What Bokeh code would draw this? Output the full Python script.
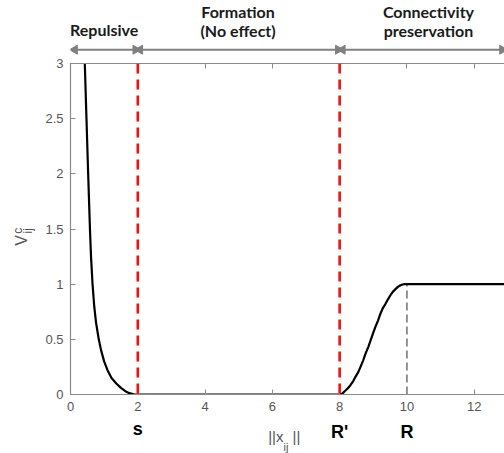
import math
from bokeh.plotting import figure
from bokeh.layouts import column, row
from bokeh.models import (Range1d, LinearAxis, FixedTicker, CustomJSTickFormatter, Span)
from bokeh.core.properties import value
from bokeh.embed import file_html
from bokeh.resources import INLINE

# ---- data ----
curve_x = [0.425, 0.475, 0.525, 0.578, 0.61, 0.655, 0.705, 0.76, 0.84, 0.91, 1.0, 1.1,
           1.22, 1.36, 1.5, 1.63, 1.75, 1.9,
           8.0, 8.08, 8.15, 8.24, 8.32, 8.4, 8.47, 8.55, 8.62, 8.7, 8.77, 8.85, 8.92, 9.0,
           9.06, 9.14, 9.21, 9.28, 9.36, 9.44, 9.51, 9.58, 9.66, 9.73, 9.81, 9.87, 9.93,
           10.0, 12.9]
curve_y = [3.0, 2.5, 2.0, 1.5, 1.25, 1.0, 0.8, 0.65, 0.5, 0.4, 0.3, 0.22,
           0.15, 0.1, 0.06, 0.03, 0.012, 0.0,
           0.0, 0.008, 0.03, 0.055, 0.084, 0.12, 0.16, 0.2, 0.25, 0.31, 0.37, 0.43, 0.49, 0.56,
           0.61, 0.67, 0.73, 0.78, 0.82, 0.865, 0.90, 0.93, 0.955, 0.975, 0.99, 0.997, 1.0,
           1.0, 1.0]
red_lines_x = [2, 8]
R_x = 10
R_level = 1.0
x_ticks = [0, 2, 4, 6, 8, 10, 12]
y_ticks = [0, 0.5, 1, 1.5, 2, 2.5, 3]
region_names = [["Repulsive"], ["Formation", "(No effect)"], ["Connectivity", "preservation"]]
region_centers = [1.0, 4.98, 10.64]
region_edges = [0.06, 2.0, 8.02, 12.9]
point_labels = ["s", "R'", "R"]
point_label_x = [2, 8, 10]

AX = "#8a8a8a"
TXT = "#555555"
ARROW = "#808080"
PX_X = 33.64      # pixels per x unit (frame 434 px wide)
PX_Y = 110.33     # pixels per y unit (frame 331 px tall)
X_END = 12.9

xr = Range1d(0, X_END)

def blank(fig):
    fig.outline_line_color = None
    fig.xgrid.visible = False
    fig.ygrid.visible = False
    fig.background_fill_color = "white"
    fig.border_fill_color = "white"
    return fig

# ---------- main plot ----------
TOP_B, FRAME_H, BOT_B = 8, 331, 25
MAIN_H = TOP_B + FRAME_H + BOT_B
p = blank(figure(width=464, height=MAIN_H, output_backend="svg",
                 toolbar_location=None, x_range=xr, y_range=Range1d(0, 3),
                 min_border_left=30, min_border_right=0, min_border_top=TOP_B,
                 min_border_bottom=BOT_B, x_axis_location=None, y_axis_location=None))

fmt = CustomJSTickFormatter(code="return String(Math.round(tick*10)/10);")
nofmt = CustomJSTickFormatter(code="return '';")

def style_axis(ax, labels=True):
    ax.axis_line_color = AX
    ax.axis_line_width = 1.2
    ax.major_tick_line_color = AX
    ax.major_tick_in = 5
    ax.major_tick_out = 0
    ax.minor_tick_line_color = None
    ax.major_label_text_color = TXT
    ax.major_label_text_font = "Liberation Sans"
    ax.major_label_text_font_size = "13px"
    if not labels:
        ax.major_label_text_font_size = "0px"
        ax.major_label_standoff = 0

xb = LinearAxis(ticker=FixedTicker(ticks=x_ticks), formatter=fmt)
style_axis(xb)
xb.major_label_standoff = 7
p.add_layout(xb, "below")

xt = LinearAxis(ticker=FixedTicker(ticks=x_ticks), formatter=nofmt)
style_axis(xt, labels=False)
p.add_layout(xt, "above")

yl = LinearAxis(ticker=FixedTicker(ticks=y_ticks), formatter=fmt)
style_axis(yl)
yl.major_label_standoff = 7
p.add_layout(yl, "left")

for xv in red_lines_x:
    p.add_layout(Span(location=xv, dimension="height", line_color="#ee1111",
                      line_width=2.6, line_dash="10 6"))

p.segment(x0=[R_x], y0=[0], x1=[R_x], y1=[R_level], line_color="#707070",
          line_width=1.5, line_dash="8 4")

p.line(curve_x, curve_y, line_color="black", line_width=2.2, line_join="round")

# ---------- top strip: region arrows and names ----------
TOP_H = 63 - TOP_B
top = blank(figure(width=504, height=TOP_H, output_backend="svg", toolbar_location=None,
                   x_range=xr, y_range=Range1d(3 + TOP_B / PX_Y, 3 + 63 / PX_Y),
                   min_border_left=70, min_border_right=0, min_border_top=0,
                   min_border_bottom=0, x_axis_location=None, y_axis_location=None))
ARROW_Y = 3.125
head = 0.13
sx0 = [region_edges[i] + head for i in range(3)]
sx1 = [region_edges[i + 1] - head for i in range(3)]
top.segment(x0=sx0, y0=[ARROW_Y] * 3, x1=sx1, y1=[ARROW_Y] * 3,
            line_color=ARROW, line_width=2)
top.scatter(x=[region_edges[i] + head / 2 for i in range(3)], y=[ARROW_Y] * 3,
            marker="triangle", size=9, angle=math.pi / 2,
            fill_color=ARROW, line_color=ARROW)
top.scatter(x=[region_edges[i + 1] - head / 2 for i in range(3)], y=[ARROW_Y] * 3,
            marker="triangle", size=9, angle=-math.pi / 2,
            fill_color=ARROW, line_color=ARROW)
tx, ty, tt = [], [], []
for i, lines in enumerate(region_names):
    ys = [3.31] if len(lines) == 1 else [3.475, 3.295]
    for t, yv in zip(lines, ys):
        tx.append(region_centers[i]); ty.append(yv); tt.append(t)
top.text(x=tx, y=ty, text=tt, text_align="center", text_baseline="middle",
         text_font=value("Lato"), text_font_style="bold", text_font_size="16px",
         text_color="#1a1a1a")

# ---------- left strip: y label V^c_ij ----------
LEFT_W = 40
left = blank(figure(width=LEFT_W, height=MAIN_H, output_backend="svg",
                    toolbar_location=None,
                    x_range=Range1d(-70 / PX_X, -(70 - LEFT_W) / PX_X),
                    y_range=Range1d(-BOT_B / PX_Y, 3 + TOP_B / PX_Y),
                    min_border_left=0, min_border_right=0, min_border_top=0,
                    min_border_bottom=0, x_axis_location=None, y_axis_location=None))
left.text(x=[-1.471], y=[1.31], text=["V"], angle=math.pi / 2, text_align="center",
          text_baseline="middle", text_font=value("Liberation Sans"),
          text_font_size="16px", text_color=TXT)
left.text(x=[-1.561, -1.263], y=[1.405, 1.405], text=["c", "ij"], angle=math.pi / 2,
          text_align="center", text_baseline="middle", text_font=value("Liberation Sans"),
          text_font_size="12px", text_color=TXT)

# ---------- bottom strip: s, R', R and ||x_ij|| ----------
BOT_H = 453 - TOP_H - MAIN_H
ybot_top = -BOT_B / PX_Y
bot = blank(figure(width=504, height=BOT_H, output_backend="svg", toolbar_location=None,
                   x_range=xr, y_range=Range1d(ybot_top - BOT_H / PX_Y, ybot_top),
                   min_border_left=70, min_border_right=0, min_border_top=0,
                   min_border_bottom=0, x_axis_location=None, y_axis_location=None))
bot.text(x=point_label_x, y=[-0.315, -0.337, -0.337], text=point_labels, text_align="center",
         text_baseline="middle", text_font=value("Liberation Sans"),
         text_font_style="bold", text_font_size="18px", text_color="black")
bot.text(x=[6.33], y=[-0.378], text=["||x"], text_align="right", text_baseline="middle",
         text_font=value("Liberation Sans"), text_font_size="15px", text_color=TXT)
bot.text(x=[6.33], y=[-0.478], text=["ij"], text_align="left", text_baseline="middle",
         text_font=value("Liberation Sans"), text_font_size="11px", text_color=TXT)
bot.text(x=[6.6], y=[-0.378], text=["||"], text_align="left", text_baseline="middle",
         text_font=value("Liberation Sans"), text_font_size="15px", text_color=TXT)

layout = column(top, row(left, p, spacing=0), bot, spacing=0)
open("out.html", "w").write(file_html(layout, INLINE))
